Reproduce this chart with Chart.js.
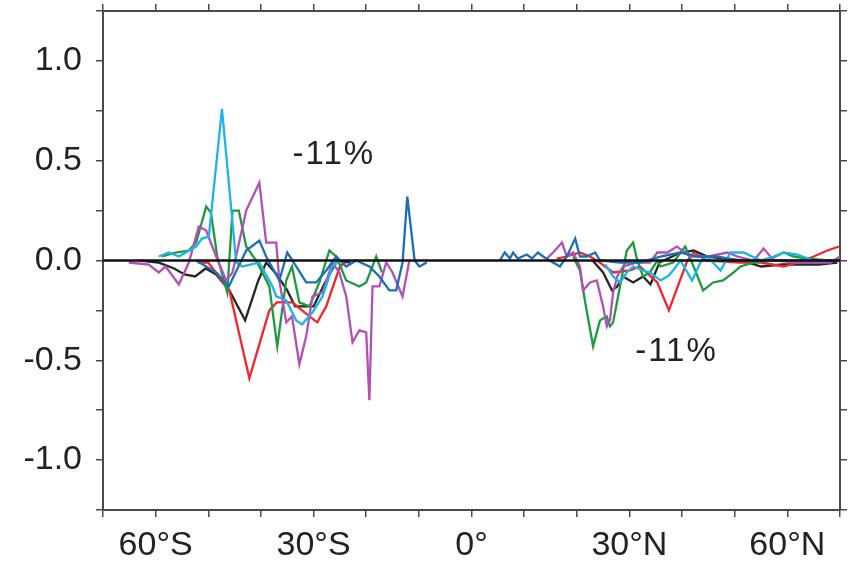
<!DOCTYPE html>
<html>
<head>
<meta charset="utf-8">
<script src="https://cdn.jsdelivr.net/npm/chart.js@4.4.1/dist/chart.umd.min.js"></script>
<style>
  html, body { margin: 0; padding: 0; background: #ffffff; }
  #wrap { width: 851px; height: 566px; }
</style>
</head>
<body>
<div id="wrap"><canvas id="c" width="851" height="566"></canvas></div>
<script>
// ---- tick labels ----
const xTickVals = [-60, -30, 0, 30, 60];
const xTickLabels = ['60°S', '30°S', '0°', '30°N', '60°N'];
const yTickVals = [-1, -0.5, 0, 0.5, 1];
const yTickLabels = ['-1.0', '-0.5', '0.0', '0.5', '1.0'];

// ---- annotations ----
const noteTexts = ['-11%', '-11%'];
const noteLat = [-34, 31.1];
const noteVal = [0.53, -0.46];

// ---- series (latitude, value); null = gap over the equator ----
const blackLat = [-63,-59.5,-56.5,-54.5,-52.5,-50.5,-48.5,-46,-43,-40.5,-39,-37,-35,-33.5,-30,-28,-25.5,-23, 0,
  23,25,26.7,27.7,28.8,30.7,32.6,34,35.7,39.7,42.2,44.8,51.3,55,59,62.7,66,69.5];
const blackVal = [0,-0.01,-0.04,-0.07,-0.08,-0.04,-0.07,-0.15,-0.30,-0.10,-0.01,-0.07,-0.15,-0.23,-0.23,-0.12,0.0,-0.01, null,
  0,-0.06,-0.15,-0.13,-0.08,-0.11,-0.08,-0.12,-0.01,0.04,0.05,0.02,0,-0.03,-0.02,-0.02,-0.02,-0.01];

const redLat = [-52,-50,-46,-42.2,-38.4,-37,-34,-32.2,-29.3,-27.6,-25,-24, 0,
  16.2,18.1,20.6,22.5,24.4,26.9,30.1,32,35.3,37.5,41,42.2,44.8,51,55,59.3,62,65,67.6,69.8];
const redVal = [-0.01,-0.01,-0.15,-0.59,-0.25,-0.21,-0.21,-0.25,-0.31,-0.23,-0.03,-0.01, null,
  0.01,0.02,0.04,0.02,-0.01,-0.06,-0.05,-0.03,-0.11,-0.25,0,0.04,0,-0.01,-0.01,-0.03,-0.01,0.02,0.05,0.07];

const greenLat = [-58.8,-56.2,-53.7,-52.3,-50.4,-49.5,-48.3,-46.4,-45.4,-44.2,-42.8,-40.9,-38.4,-36.9,-35.2,-34.1,-32.7,-30.8,-28.9,-27,-25.7,-23.8,-21.3,-20,-18.1,-17, 0,
  19.3,20.6,21.6,23.1,24.4,25.7,26.3,26.9,28.2,29.5,30.7,31.5,32.6,33.9,35.3,35.9,38.3,40.6,42.2,44,45.9,47.8,49.8,51.1,53.6,56.2,59.3,61.2,63.8,67.6,70];
const greenVal = [0.02,0.04,0.05,0.09,0.27,0.24,0.02,-0.16,0.25,0.25,0.07,0,-0.13,-0.43,-0.10,-0.03,-0.21,-0.23,-0.11,0.05,0.02,-0.10,-0.13,-0.11,0.02,-0.06, null,
  0.02,-0.05,-0.21,-0.43,-0.30,-0.28,-0.33,-0.31,-0.13,0.05,0.09,0,-0.08,-0.06,0,-0.03,-0.01,0.07,-0.03,-0.15,-0.11,-0.10,-0.06,-0.03,-0.01,0,0.04,0.02,0.01,0,0];

const purpleLat = [-65.1,-61.3,-59.4,-58.1,-55.6,-53.7,-51.8,-50.4,-48.5,-46.6,-45.4,-42.8,-40.3,-39,-37.1,-36.5,-35.2,-34.1,-32.7,-31.4,-30.2,-28.3,-26.4,-25.1,-23.8,-22.6,-21.3,-20,-19.4,-18.8,-17.5,-16.2,-15,-13.1,-11.8, 0,
  14.3,15.5,17.2,18.1,19.3,20.6,21.2,22.5,23.8,25,25.7,26.3,26.9,27.7,28.8,31.5,33.9,35.3,37.2,39,41.6,44.8,48.6,50.5,53.6,55.5,57.4,61.9,65,68.2,70];
const purpleVal = [-0.01,-0.02,-0.06,-0.03,-0.12,-0.01,0.17,0.15,0.02,-0.10,-0.06,0.25,0.39,0.09,0.09,-0.10,-0.31,-0.28,-0.52,-0.38,-0.18,-0.16,-0.01,-0.06,-0.18,-0.41,-0.35,-0.36,-0.70,-0.13,-0.13,-0.01,-0.06,-0.18,0, null,
  0.01,0.04,0.09,0.02,0.04,-0.03,-0.15,-0.11,-0.10,-0.23,-0.33,-0.30,-0.16,-0.08,-0.03,-0.01,-0.01,0.04,0.04,0.07,0.02,0.02,0.04,0.02,0,0.06,0,-0.01,-0.01,-0.01,0.02];

const cyanLat = [-59.4,-57.5,-55.6,-54.3,-52.3,-51.2,-49.9,-47.4,-44.7,-43.5,-40.3,-37.8,-37.1,-35.2,-33.3,-32.2,-30.2,-28.3,-26.4,-25.1, 0,
  25.4,26.9,28.2,29.5,30.7,32.6,33.9,35.9,37.2,38.3,39.7,41.9,43.5,44.8,47.3,49.2,51.7,54.9,57.4,59.3,61.9,65,70];
const cyanVal = [0.02,0.04,0.02,0.04,0.07,0.11,0.12,0.76,-0.01,-0.03,-0.01,-0.13,-0.18,-0.20,-0.30,-0.32,-0.26,-0.18,-0.03,0, null,
  -0.02,-0.08,-0.11,-0.06,-0.03,-0.05,-0.06,-0.10,-0.08,-0.05,0,-0.10,-0.01,0.02,-0.05,0.04,0.04,0,0.02,0.04,0.03,0,0];

const blueLat = [-52.3,-50.4,-48.5,-46.1,-42.8,-40.3,-39,-36.5,-35,-33.3,-31.4,-29.5,-27.6,-25.7,-23.8,-21.9,-19.4,-17.5,-15.6,-14.3,-13.1,-12.2,-10.8,-9.9,-8.5, 0,
  5.4,6.3,7.3,7.9,8.8,10.5,11.5,12.6,13.6,15.5,16.8,18.1,19.7,20.6,21.9,23.5,24.4,28.2,32,35.9,39.7,42.9,46.7,50.5,57.4,63.8,70];
const blueVal = [0,-0.03,-0.06,-0.13,0.05,0.10,0.02,-0.10,0.04,-0.03,-0.11,-0.11,-0.05,0.02,-0.03,0,-0.03,-0.08,-0.15,-0.15,-0.01,0.32,0,-0.03,-0.01, null,
  0,0.04,0.01,0.04,0.01,0.03,0.01,0.04,0.02,-0.01,-0.03,0.02,0.11,0.02,0.02,0.04,0,-0.01,-0.01,0.02,0.04,0.02,0.02,0,0,0,0];

const zeroLat = [-70, 70];
const zeroVal = [0, 0];

function pts(lat, val) { return lat.map((x, i) => ({ x: x, y: val[i] })); }

function series(lat, val, color, width) {
  return { data: pts(lat, val), borderColor: color, backgroundColor: color, borderWidth: width,
           pointRadius: 0, tension: 0, spanGaps: false, fill: false };
}

const FONT = '"Liberation Sans", Arial, Helvetica, sans-serif';
const AXIS = '#4a4a4a';

const notesPlugin = {
  id: 'notes',
  afterDatasetsDraw(chart) {
    const { ctx, scales } = chart;
    ctx.save();
    ctx.font = '33px ' + FONT;
    try { ctx.letterSpacing = '2px'; } catch (e) {}
    ctx.fillStyle = '#222';
    ctx.textAlign = 'left';
    ctx.textBaseline = 'middle';
    noteTexts.forEach((t, i) => {
      ctx.fillText(t, scales.x.getPixelForValue(noteLat[i]), scales.y.getPixelForValue(noteVal[i]));
    });
    ctx.restore();
  }
};

const gridOpts = { drawOnChartArea: false, drawTicks: true, tickLength: 7, color: AXIS, lineWidth: 1.5 };
const borderOpts = { display: true, color: AXIS, width: 2 };

function xTicks(s) { s.ticks = []; for (let v = -70; v <= 70; v += 10) s.ticks.push({ value: v }); }
function yTicks(s) { s.ticks = []; for (let k = -5; k <= 5; k++) s.ticks.push({ value: k * 0.25 }); }

new Chart(document.getElementById('c'), {
  type: 'line',
  data: {
    datasets: [
      series(zeroLat, zeroVal, '#111111', 2.5),
      series(blueLat, blueVal, '#1c6fb6', 2.3),
      series(cyanLat, cyanVal, '#1db4ea', 2.3),
      series(purpleLat, purpleVal, '#b34fb6', 2.3),
      series(greenLat, greenVal, '#1d9a3c', 2.3),
      series(redLat, redVal, '#f2262a', 2.3),
      series(blackLat, blackVal, '#262626', 2.3)
    ]
  },
  options: {
    responsive: false,
    animation: false,
    layout: { padding: 0 },
    plugins: { legend: { display: false }, tooltip: { enabled: false } },
    scales: {
      x: {
        type: 'linear', position: 'bottom', min: -70, max: 70,
        afterBuildTicks: xTicks,
        ticks: {
          autoSkip: false, maxRotation: 0, padding: 8, color: '#222',
          font: { size: 34, family: FONT },
          callback: v => { const i = xTickVals.indexOf(Math.round(v)); return i >= 0 ? xTickLabels[i] : ''; }
        },
        grid: gridOpts, border: borderOpts,
        afterFit: s => { s.height = 56; s.paddingLeft = 0; s.paddingRight = 0; }
      },
      x2: {
        type: 'linear', position: 'top', min: -70, max: 70,
        afterBuildTicks: xTicks,
        ticks: { display: false },
        grid: gridOpts, border: borderOpts,
        afterFit: s => { s.height = 11; s.paddingLeft = 0; s.paddingRight = 0; }
      },
      y: {
        type: 'linear', position: 'left', min: -1.25, max: 1.25,
        afterBuildTicks: yTicks,
        ticks: {
          autoSkip: false, padding: 14, color: '#222',
          font: { size: 34, family: FONT },
          callback: v => { const i = yTickVals.findIndex(t => Math.abs(t - v) < 1e-6); return i >= 0 ? yTickLabels[i] : ''; }
        },
        grid: gridOpts, border: borderOpts,
        afterFit: s => { s.width = 103; s.paddingTop = 0; s.paddingBottom = 0; }
      },
      y2: {
        type: 'linear', position: 'right', min: -1.25, max: 1.25,
        afterBuildTicks: yTicks,
        ticks: { display: false },
        grid: gridOpts, border: borderOpts,
        afterFit: s => { s.width = 11; s.paddingTop = 0; s.paddingBottom = 0; }
      }
    }
  },
  plugins: [notesPlugin]
});
</script>
</body>
</html>
